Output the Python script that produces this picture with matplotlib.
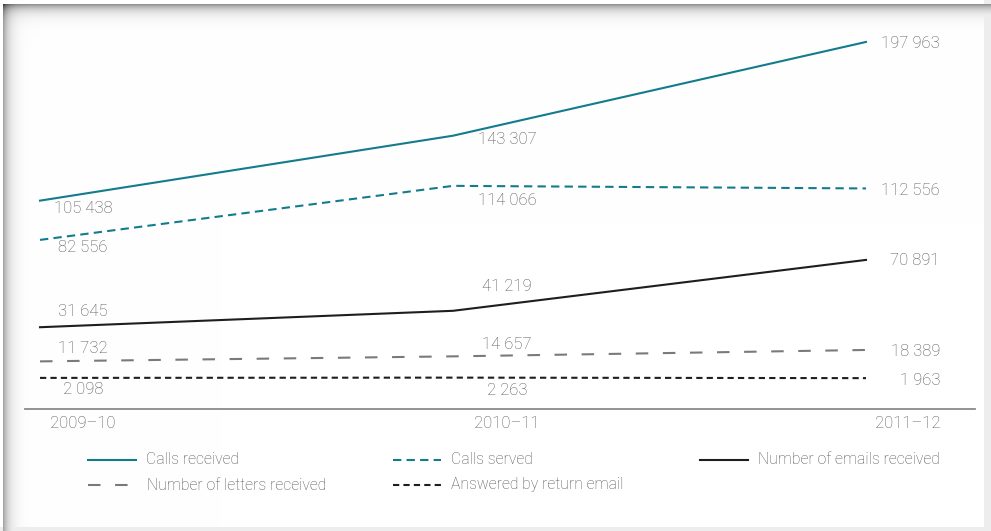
import numpy as np
import matplotlib
matplotlib.use("Agg")
import matplotlib.pyplot as plt
from matplotlib.lines import Line2D

plt.rcParams["font.family"] = ["Roboto", "DejaVu Sans"]
plt.rcParams["font.weight"] = "light"

years = ["2009–10", "2010–11", "2011–12"]
calls_received = [105438, 143307, 197963]
calls_served = [82556, 114066, 112556]
emails_received = [31645, 41219, 70891]
letters_received = [11732, 14657, 18389]
answered_by_email = [2098, 2263, 1963]

names = ["Calls received", "Calls served", "Number of emails received",
         "Number of letters received", "Answered by return email"]
series = [calls_received, calls_served, emails_received, letters_received, answered_by_email]

TEAL = "#137c8c"
TXT = "#555555"
styles = [dict(color=TEAL, ls="-"),
          dict(color=TEAL, ls=(0, (4, 2.5))),
          dict(color="#1e1e1e", ls="-"),
          dict(color="#7a7a7a", ls=(0, (6, 7))),
          dict(color="#1e1e1e", ls=(0, (3, 2)))]
# label offsets in pixels (start, middle, end) per series
offs = [[-8, -4, -2], [-8, -15, -2], [16, 24, -1], [13, 12, -2], [-12, -13, -2]]

W, H = 991, 531
fig = plt.figure(figsize=(W / 100, H / 100), dpi=100)

# framed background with soft shadow on top/left
bg = fig.add_axes([0, 0, 1, 1], zorder=-10)
yy, xx = np.mgrid[0:H, 0:W]
img = np.ones((H, W))
img -= 0.42 * np.exp(-np.clip(yy - 4, 0, None) / 6.0) * (yy >= 4)
img -= 0.35 * np.exp(-np.clip(xx - 3, 0, None) / 6.0) * (xx >= 3) * (yy >= 4)
img[:4, :] = 1.0
img[:, :3] = 1.0
img[:, 984:] = np.minimum(img[:, 984:], 0.93)
img[527:, :] = np.minimum(img[527:, :], 0.93)
img = np.clip(img, 0, 1)
bg.imshow(np.dstack([img] * 3), aspect="auto", extent=(0, 1, 0, 1))
bg.axis("off")

ax = fig.add_axes([25 / W, (H - 409) / H, 950 / W, (409 - 20) / H])
x = np.arange(len(years))
for vals, name, st, off in zip(series, names, styles, offs):
    ax.plot(x, vals, color=st["color"], linestyle=st["ls"], lw=1.5, label=name)
    for i, v in enumerate(vals):
        lbl = f"{v:,}".replace(",", " ")
        if i == 2:
            dx, ha = 74, "right"
        elif i == 1:
            dx, ha = 54, "center"
        else:
            dx, ha = 43, "center"
        ax.annotate(lbl, (x[i], v), xytext=(dx, off[i]), textcoords="offset pixels",
                    ha=ha, va="center", fontsize=12, color=TXT)

ax.set_xlim(-15 / 413, 2 + 109 / 413)
ax.set_ylim(-16030, 210760)
for s in ("top", "right", "left"):
    ax.spines[s].set_visible(False)
ax.spines["bottom"].set_color("#8a8a8a")
ax.spines["bottom"].set_linewidth(1.3)
ax.set_xticks([])
ax.set_yticks([])
ax.patch.set_alpha(0)

# category labels under the axis
for i, yr in enumerate(years):
    dx, ha = [(43, "center"), (54, "center"), (74, "right")][i]
    ax.annotate(yr, (x[i], -16030), xytext=(dx, -15), textcoords="offset pixels",
                ha=ha, va="center", fontsize=12, color=TXT, annotation_clip=False)

# legend drawn by hand in pixel coordinates
leg_pos = [(88, 460), (393, 460), (700, 460), (88, 485), (393, 485)]
for (px, py), name, st in zip(leg_pos, names, styles):
    fy = (H - py) / H
    fig.add_artist(Line2D([px / W, (px + 48) / W], [fy, fy], color=st["color"],
                          linestyle=st["ls"], lw=1.5))
    tx = px + 58 if st["ls"] != (0, (6, 7)) else px + 59
    fig.text(tx / W, fy, name, ha="left", va="center", fontsize=11.3, color=TXT)

fig.savefig("out.png", dpi=100)
